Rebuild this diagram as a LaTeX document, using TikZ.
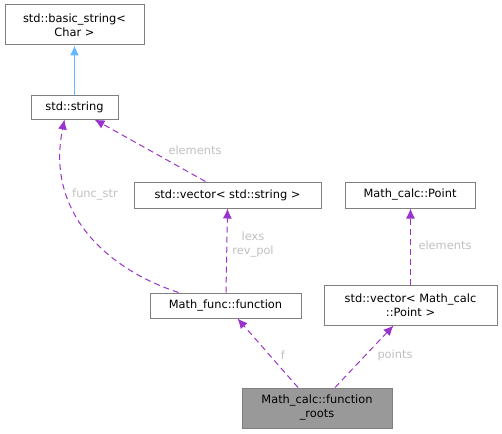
\documentclass[tikz,border=0pt]{standalone}
\usepackage{fontspec}
\setmainfont{DejaVu Sans}
\usepackage{tikz}
\usetikzlibrary{positioning, arrows.meta, calc}
\definecolor{edgePurple}{HTML}{9A32CD}
\definecolor{edgeBlue}{HTML}{63B8FF}
\definecolor{labelGrey}{HTML}{C0C0C0}
\definecolor{boxGrey}{HTML}{7F7F7F}
\definecolor{mainFill}{HTML}{999999}

\begin{document}
\begin{tikzpicture}[x=1pt, y=-1pt,
  cls/.style={draw=boxGrey, line width=1pt, fill=white, inner sep=0pt,
              align=center, font=\fontsize{11.4}{14}\selectfont},
  usage/.style={draw=edgePurple, dash pattern=on 6pt off 4pt, line width=1pt,
                -{Latex[length=10pt, width=9pt]}},
  inherit/.style={draw=edgeBlue, line width=1pt,
                  -{Latex[length=10pt, width=9pt]}},
  lbl/.style={text=labelGrey, font=\fontsize{11.4}{14}\selectfont, align=center},
]
  \useasboundingbox (0,0) rectangle (502,433);

  % classes
  \node[cls, minimum width=139pt, minimum height=40pt] (basic) at (74.5,25)
    {std::basic\_string<\\Char >};
  \node[cls, minimum width=87pt, minimum height=24pt] (str) at (74.5,107)
    {std::string};
  \node[cls, minimum width=187pt, minimum height=26pt] (vecstr) at (227.5,195)
    {std::vector< std::string >};
  \node[cls, minimum width=130pt, minimum height=26pt] (point) at (410,195)
    {Math\_calc::Point};
  \node[cls, minimum width=151pt, minimum height=25pt] (func) at (225.5,305.5)
    {Math\_func::function};
  \node[cls, minimum width=173pt, minimum height=40pt] (vecpt) at (410.5,305)
    {std::vector< Math\_calc\\::Point >};
  \node[cls, fill=mainFill, minimum width=150pt, minimum height=40pt] (roots) at (317,408)
    {Math\_calc::function\\\_roots};

  % inheritance
  \draw[inherit] (str.north) -- (basic.south);

  % members
  \draw[usage] ($(vecstr.north)+(-22,0)$) -- ($(str.south)+(20,0)$);
  \node[lbl] (lElem1) at (195,150) {elements};

  \draw[usage] ($(func.north)+(-47,0)$)
    .. controls (110,270) and (45,215) .. ($(str.south)+(-10,0)$);
  \node[lbl] (lFuncStr) at (95,195) {func\_str};

  \draw[usage] ($(func.north)+(0.5,0)$) -- (vecstr.south);
  \node[lbl] (lLexs) at (253,245) {lexs\\rev\_pol};

  \draw[usage] (vecpt.north) -- ($(point.south)+(0.5,0)$);
  \node[lbl] (lElem2) at (445,245) {elements};

  \draw[usage] ($(roots.north)+(-19,0)$) -- ($(func.south)+(12,0)$);
  \node[lbl] (lF) at (283,355) {f};

  \draw[usage] ($(roots.north)+(18,0)$) -- ($(vecpt.south)+(-17,0)$);
  \node[lbl] (lPoints) at (395,355) {points};
\end{tikzpicture}
\end{document}
